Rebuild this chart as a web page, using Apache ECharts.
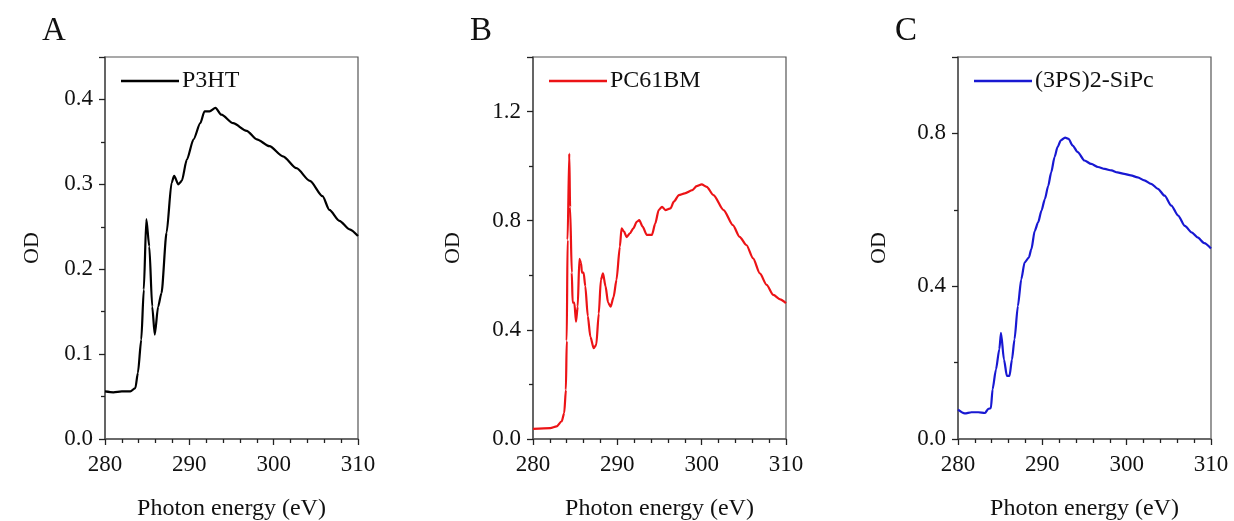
<!DOCTYPE html>
<html>
<head>
<meta charset="utf-8">
<script src="https://cdn.jsdelivr.net/npm/echarts@6/dist/echarts.min.js"></script>
<style>
  html, body { margin: 0; padding: 0; background: #fff; }
  #main { width: 1234px; height: 521px; }
</style>
</head>
<body>
<div id="main"></div>
<script>
// 数据：光子能量 (eV) 与 OD
var xTicks = [280, 290, 300, 310];

var p3htEnergy = [280, 281, 282, 283, 283.6, 283.9, 284.3, 284.6, 284.9, 285.25, 285.6, 285.9, 286.3, 286.7, 287.3, 287.9, 288.2, 288.7, 289.1, 289.7, 290.5, 291.3, 291.8, 292.4, 293.1, 293.8, 295.2, 296.8, 298.0, 299.5, 301.1, 302.7, 304.3, 305.8, 306.6, 307.8, 309.0, 310];
var p3htOD = [0.056, 0.055, 0.056, 0.056, 0.06, 0.078, 0.117, 0.176, 0.259, 0.227, 0.156, 0.123, 0.156, 0.172, 0.243, 0.302, 0.31, 0.30, 0.304, 0.329, 0.353, 0.372, 0.386, 0.386, 0.39, 0.382, 0.372, 0.363, 0.353, 0.345, 0.333, 0.319, 0.304, 0.286, 0.27, 0.257, 0.247, 0.239];

var pcbmEnergy = [280, 282.05, 282.8, 283.4, 283.7, 283.9, 284.0, 284.1, 284.3, 284.4, 284.6, 284.7, 284.9, 285.1, 285.3, 285.5, 285.7, 285.8, 286.0, 286.2, 286.5, 286.8, 287.2, 287.5, 287.8, 288.05, 288.3, 288.6, 288.9, 289.2, 289.55, 289.9, 290.3, 290.5, 290.8, 291.1, 291.5, 291.9, 292.3, 292.6, 293.0, 293.5, 294.1, 294.5, 294.9, 295.3, 295.7, 296.3, 296.7, 297.3, 298.0, 298.9, 299.4, 300.0, 300.6, 301.4, 302.6, 303.7, 304.5, 305.3, 306.1, 306.9, 307.7, 308.5, 309.3, 310];
var pcbmOD = [0.037, 0.04, 0.046, 0.065, 0.095, 0.18, 0.36, 0.73, 1.046, 0.85, 0.61, 0.50, 0.50, 0.43, 0.485, 0.66, 0.645, 0.61, 0.61, 0.56, 0.45, 0.375, 0.333, 0.345, 0.46, 0.583, 0.607, 0.56, 0.50, 0.485, 0.52, 0.583, 0.705, 0.772, 0.76, 0.74, 0.754, 0.772, 0.796, 0.802, 0.778, 0.748, 0.748, 0.79, 0.839, 0.851, 0.839, 0.845, 0.87, 0.894, 0.9, 0.912, 0.927, 0.933, 0.924, 0.894, 0.839, 0.784, 0.741, 0.711, 0.662, 0.607, 0.565, 0.528, 0.512, 0.498];

var sipcEnergy = [280, 280.8, 281.6, 282.4, 283.2, 283.6, 283.9, 284.1, 284.5, 284.9, 285.1, 285.45, 285.8, 286.1, 286.4, 286.7, 287.1, 287.5, 287.9, 288.4, 288.7, 289.1, 289.5, 289.9, 290.3, 290.7, 291.05, 291.45, 291.8, 292.2, 292.7, 293.1, 293.6, 294.2, 295.0, 295.8, 296.6, 297.4, 298.2, 298.9, 299.7, 300.5, 301.3, 302.1, 302.9, 303.7, 304.5, 305.3, 306.1, 306.9, 307.7, 308.4, 309.2, 310];
var sipcOD = [0.077, 0.067, 0.07, 0.07, 0.068, 0.079, 0.081, 0.13, 0.182, 0.235, 0.278, 0.208, 0.165, 0.165, 0.208, 0.261, 0.348, 0.418, 0.462, 0.475, 0.497, 0.545, 0.567, 0.598, 0.628, 0.663, 0.698, 0.738, 0.764, 0.782, 0.789, 0.786, 0.768, 0.751, 0.729, 0.72, 0.712, 0.707, 0.703, 0.698, 0.694, 0.69, 0.685, 0.677, 0.668, 0.655, 0.637, 0.611, 0.585, 0.558, 0.541, 0.528, 0.513, 0.499];

var panels = [
  { tag: "A", name: "P3HT", color: "#000000", x: p3htEnergy, y: p3htOD, left: 105, yMax: 0.45, yInt: 0.1, nameGap: 62 },
  { tag: "B", name: "PC61BM", color: "#ec1316", x: pcbmEnergy, y: pcbmOD, left: 533, yMax: 1.4, yInt: 0.4, nameGap: 69 },
  { tag: "C", name: "(3PS)2-SiPc", color: "#1818d2", x: sipcEnergy, y: sipcOD, left: 958, yMax: 1.0, yInt: 0.4, nameGap: 68 }
];

var FONT = "Liberation Serif";
var AXIS = "#555";
var chart = echarts.init(document.getElementById("main"));

var option = {
  animation: false,
  backgroundColor: "#fff",
  grid: [], xAxis: [], yAxis: [], series: [], legend: [], graphic: []
};

panels.forEach(function (p, i) {
  option.grid.push({
    left: p.left, top: 57, width: 253, height: 382,
    containLabel: false, outerBoundsMode: "none",
    show: true, borderColor: AXIS, borderWidth: 1.2
  });
  option.xAxis.push({
    gridIndex: i, type: "value", min: 280, max: 310, interval: 10,
    name: "Photon energy (eV)", nameLocation: "middle", nameGap: 58,
    nameTextStyle: { fontFamily: FONT, fontSize: 24, color: "#111" },
    axisLine: { show: true, onZero: false, lineStyle: { color: AXIS, width: 1.5 } },
    axisTick: { show: true, length: 6, lineStyle: { color: "#222", width: 1.3 } },
    minorTick: { show: true, splitNumber: 5, length: 4, lineStyle: { color: "#222", width: 1.3 } },
    axisLabel: { fontFamily: FONT, fontSize: 23, color: "#111", margin: 14 },
    splitLine: { show: false }
  });
  option.yAxis.push({
    gridIndex: i, type: "value", min: 0, max: p.yMax, interval: p.yInt,
    name: "OD", nameLocation: "middle", nameGap: p.nameGap,
    nameTextStyle: { fontFamily: FONT, fontSize: 22, color: "#111" },
    axisLine: { show: true, onZero: false, lineStyle: { color: AXIS, width: 1.5 } },
    axisTick: { show: true, length: 6, lineStyle: { color: "#222", width: 1.3 } },
    minorTick: { show: true, splitNumber: 2, length: 4, lineStyle: { color: "#222", width: 1.3 } },
    axisLabel: {
      fontFamily: FONT, fontSize: 23, color: "#111", margin: 12, showMaxLabel: false,
      formatter: function (v) { return v.toFixed(1); }
    },
    splitLine: { show: false }
  });
  option.series.push({
    name: p.name, type: "line", xAxisIndex: i, yAxisIndex: i,
    data: p.x.map(function (e, k) { return [e, p.y[k]]; }),
    symbol: "none", smooth: 0.25, smoothMonotone: "x",
    lineStyle: { color: p.color, width: 2.2 }, itemStyle: { color: p.color }
  });
  option.legend.push({
    data: [p.name], left: p.left + 11, top: 64,
    icon: "rect", itemWidth: 58, itemHeight: 2.5, itemGap: 4,
    textStyle: { fontFamily: FONT, fontSize: 24, color: "#111", padding: [0, 0, 0, -2] }
  });
  option.graphic.push({
    type: "text", left: p.left - 63, top: 15,
    style: { text: p.tag, fontFamily: FONT, fontSize: 33, fill: "#111" }
  });
});

chart.setOption(option);
</script>
</body>
</html>
